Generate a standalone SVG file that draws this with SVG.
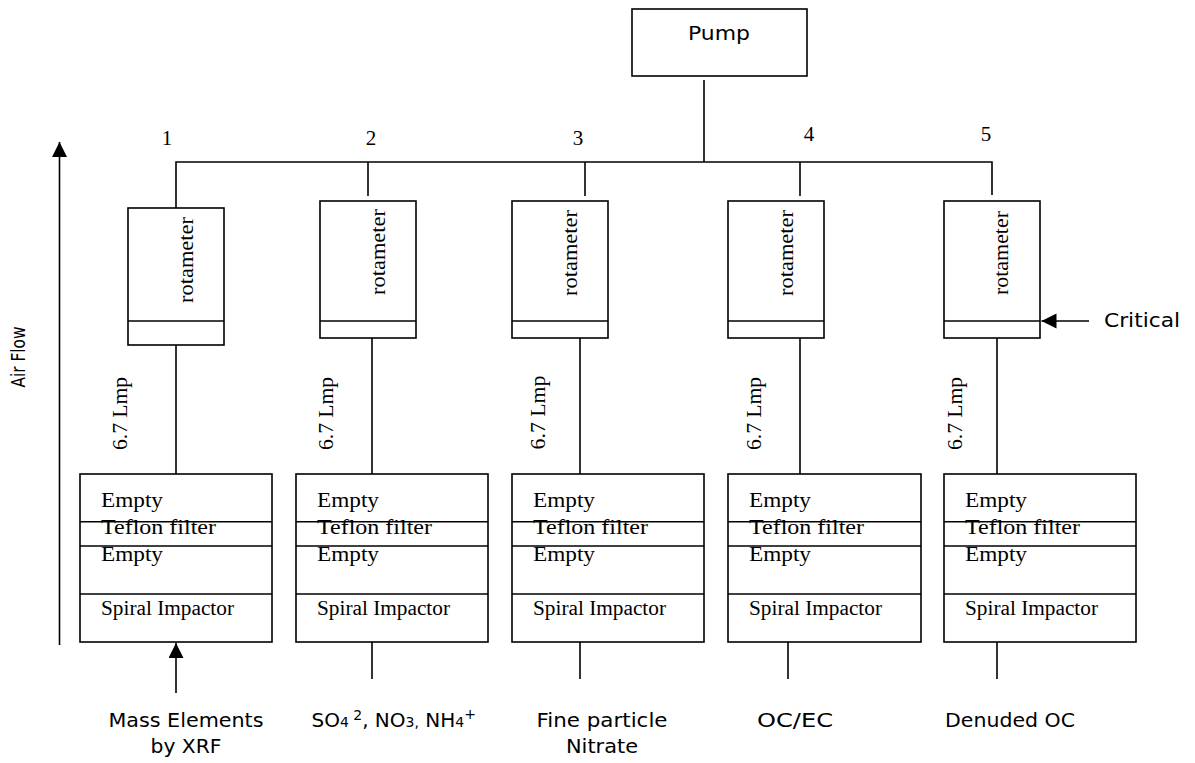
<svg xmlns="http://www.w3.org/2000/svg" width="1195" height="763" viewBox="0 0 1195 763">
  <style>
    .box { fill: #fff; stroke: #000; stroke-width: 1.6; }
    .ln { fill: none; stroke: #000; stroke-width: 1.6; }
    .serif { font-family: "Liberation Serif", "Times New Roman", serif; fill: #000; }
    .sans { font-family: "DejaVu Sans", "Liberation Sans", sans-serif; fill: #000; font-size: 20px; }
    .num { font-size: 21px; text-anchor: middle; }
    .rot { font-size: 22px; text-anchor: middle; }
    .row { font-size: 22px; }
    .small { font-size: 20px; }
  </style>
  <defs>
    <marker id="head" markerUnits="userSpaceOnUse" markerWidth="16" markerHeight="16" refX="15" refY="7.5" orient="auto">
      <path d="M0,0 L15,7.5 L0,15 Z" fill="#000"/>
    </marker>
  </defs>

  <!-- pump -->
  <g id="pump">
    <rect class="box" x="632" y="9" width="175" height="67"/>
    <text class="sans" x="719" y="40" text-anchor="middle" textLength="62" lengthAdjust="spacingAndGlyphs">Pump</text>
  </g>

  <!-- air flow direction -->
  <g id="airflow">
    <line class="ln" x1="59.5" y1="645" x2="59.5" y2="142" marker-end="url(#head)"/>
    <text class="sans" transform="translate(25,357) rotate(-90)" text-anchor="middle" font-size="18" textLength="61" lengthAdjust="spacingAndGlyphs">Air Flow</text>
  </g>

  <!-- piping -->
  <g id="connectors">
    <line class="ln" x1="704" y1="80" x2="704" y2="162"/>
    <polyline class="ln" points="176,208 176,162 992,162 992,195"/>
    <line class="ln" x1="368" y1="162" x2="368" y2="196"/>
    <line class="ln" x1="585" y1="162" x2="585" y2="196"/>
    <line class="ln" x1="800" y1="162" x2="800" y2="196"/>
    <!-- rotameter to sampler -->
    <line class="ln" x1="176" y1="345" x2="176" y2="474"/>
    <line class="ln" x1="372" y1="338" x2="372" y2="474"/>
    <line class="ln" x1="580" y1="338" x2="580" y2="474"/>
    <line class="ln" x1="800" y1="338" x2="800" y2="474"/>
    <line class="ln" x1="997" y1="338" x2="997" y2="474"/>
    <!-- sampler inlets -->
    <line class="ln" x1="176" y1="693" x2="176" y2="643" marker-end="url(#head)"/>
    <line class="ln" x1="372" y1="642" x2="372" y2="679"/>
    <line class="ln" x1="580" y1="642" x2="580" y2="679"/>
    <line class="ln" x1="788" y1="642" x2="788" y2="679"/>
    <line class="ln" x1="997" y1="642" x2="997" y2="679"/>
    <!-- critical orifice pointer -->
    <line class="ln" x1="1089" y1="321" x2="1041.5" y2="321" marker-end="url(#head)"/>
  </g>

  <!-- channel numbers -->
  <g id="numbers" class="serif num">
    <text x="167" y="145">1</text>
    <text x="371" y="145">2</text>
    <text x="578" y="145">3</text>
    <text x="809" y="141">4</text>
    <text x="986" y="141">5</text>
  </g>

  <!-- rotameters -->
  <g id="rotameter-1">
    <rect class="box" x="128" y="208" width="96" height="137"/>
    <line class="ln" x1="128" y1="321" x2="224" y2="321"/>
    <text class="serif rot" transform="translate(193,260) rotate(-90)" textLength="86" lengthAdjust="spacingAndGlyphs">rotameter</text>
  </g>
  <g id="rotameter-2">
    <rect class="box" x="320" y="201" width="96" height="137"/>
    <line class="ln" x1="320" y1="321" x2="416" y2="321"/>
    <text class="serif rot" transform="translate(385,252) rotate(-90)" textLength="86" lengthAdjust="spacingAndGlyphs">rotameter</text>
  </g>
  <g id="rotameter-3">
    <rect class="box" x="512" y="201" width="96" height="137"/>
    <line class="ln" x1="512" y1="321" x2="608" y2="321"/>
    <text class="serif rot" transform="translate(577,253) rotate(-90)" textLength="86" lengthAdjust="spacingAndGlyphs">rotameter</text>
  </g>
  <g id="rotameter-4">
    <rect class="box" x="728" y="201" width="96" height="137"/>
    <line class="ln" x1="728" y1="321" x2="824" y2="321"/>
    <text class="serif rot" transform="translate(793,253) rotate(-90)" textLength="86" lengthAdjust="spacingAndGlyphs">rotameter</text>
  </g>
  <g id="rotameter-5">
    <rect class="box" x="944" y="201" width="96" height="137"/>
    <line class="ln" x1="944" y1="321" x2="1040" y2="321"/>
    <text class="serif rot" transform="translate(1008,253) rotate(-90)" textLength="84" lengthAdjust="spacingAndGlyphs">rotameter</text>
  </g>
  <text id="critical" class="sans" x="1104" y="327" textLength="76" lengthAdjust="spacingAndGlyphs">Critical</text>

  <!-- flow rates -->
  <g id="flow-rates" class="serif rot">
    <text transform="translate(127,413.5) rotate(-90)" textLength="73" lengthAdjust="spacingAndGlyphs">6.7 Lmp</text>
    <text transform="translate(333,413.5) rotate(-90)" textLength="73" lengthAdjust="spacingAndGlyphs">6.7 Lmp</text>
    <text transform="translate(545,412.5) rotate(-90)" textLength="74" lengthAdjust="spacingAndGlyphs">6.7 Lmp</text>
    <text transform="translate(761,413.5) rotate(-90)" textLength="73" lengthAdjust="spacingAndGlyphs">6.7 Lmp</text>
    <text transform="translate(962,413.5) rotate(-90)" textLength="73" lengthAdjust="spacingAndGlyphs">6.7 Lmp</text>
  </g>

  <!-- sampler stacks -->
  <g id="sampler-1">
    <rect class="box" x="80" y="474" width="192" height="168"/>
    <line class="ln" x1="80" y1="521.7" x2="272" y2="521.7"/>
    <line class="ln" x1="80" y1="546" x2="272" y2="546"/>
    <line class="ln" x1="80" y1="594" x2="272" y2="594"/>
    <text class="serif row" x="101" y="507" textLength="62" lengthAdjust="spacingAndGlyphs">Empty</text>
    <text class="serif row" x="101" y="534" textLength="115" lengthAdjust="spacingAndGlyphs">Teflon filter</text>
    <text class="serif row" x="101" y="561" textLength="62" lengthAdjust="spacingAndGlyphs">Empty</text>
    <text class="serif small" x="101" y="615" textLength="133" lengthAdjust="spacingAndGlyphs">Spiral Impactor</text>
  </g>
  <g id="sampler-2">
    <rect class="box" x="296" y="474" width="192" height="168"/>
    <line class="ln" x1="296" y1="521.7" x2="488" y2="521.7"/>
    <line class="ln" x1="296" y1="546" x2="488" y2="546"/>
    <line class="ln" x1="296" y1="594" x2="488" y2="594"/>
    <text class="serif row" x="317" y="507" textLength="62" lengthAdjust="spacingAndGlyphs">Empty</text>
    <text class="serif row" x="317" y="534" textLength="115" lengthAdjust="spacingAndGlyphs">Teflon filter</text>
    <text class="serif row" x="317" y="561" textLength="62" lengthAdjust="spacingAndGlyphs">Empty</text>
    <text class="serif small" x="317" y="615" textLength="133" lengthAdjust="spacingAndGlyphs">Spiral Impactor</text>
  </g>
  <g id="sampler-3">
    <rect class="box" x="512" y="474" width="192" height="168"/>
    <line class="ln" x1="512" y1="521.7" x2="704" y2="521.7"/>
    <line class="ln" x1="512" y1="546" x2="704" y2="546"/>
    <line class="ln" x1="512" y1="594" x2="704" y2="594"/>
    <text class="serif row" x="533" y="507" textLength="62" lengthAdjust="spacingAndGlyphs">Empty</text>
    <text class="serif row" x="533" y="534" textLength="115" lengthAdjust="spacingAndGlyphs">Teflon filter</text>
    <text class="serif row" x="533" y="561" textLength="62" lengthAdjust="spacingAndGlyphs">Empty</text>
    <text class="serif small" x="533" y="615" textLength="133" lengthAdjust="spacingAndGlyphs">Spiral Impactor</text>
  </g>
  <g id="sampler-4">
    <rect class="box" x="728" y="474" width="193" height="168"/>
    <line class="ln" x1="728" y1="521.7" x2="921" y2="521.7"/>
    <line class="ln" x1="728" y1="546" x2="921" y2="546"/>
    <line class="ln" x1="728" y1="594" x2="921" y2="594"/>
    <text class="serif row" x="749" y="507" textLength="62" lengthAdjust="spacingAndGlyphs">Empty</text>
    <text class="serif row" x="749" y="534" textLength="115" lengthAdjust="spacingAndGlyphs">Teflon filter</text>
    <text class="serif row" x="749" y="561" textLength="62" lengthAdjust="spacingAndGlyphs">Empty</text>
    <text class="serif small" x="749" y="615" textLength="133" lengthAdjust="spacingAndGlyphs">Spiral Impactor</text>
  </g>
  <g id="sampler-5">
    <rect class="box" x="944" y="474" width="192" height="168"/>
    <line class="ln" x1="944" y1="521.7" x2="1136" y2="521.7"/>
    <line class="ln" x1="944" y1="546" x2="1136" y2="546"/>
    <line class="ln" x1="944" y1="594" x2="1136" y2="594"/>
    <text class="serif row" x="965" y="507" textLength="62" lengthAdjust="spacingAndGlyphs">Empty</text>
    <text class="serif row" x="965" y="534" textLength="115" lengthAdjust="spacingAndGlyphs">Teflon filter</text>
    <text class="serif row" x="965" y="561" textLength="62" lengthAdjust="spacingAndGlyphs">Empty</text>
    <text class="serif small" x="965" y="615" textLength="133" lengthAdjust="spacingAndGlyphs">Spiral Impactor</text>
  </g>

  <!-- analyses -->
  <g id="analyses" class="sans" text-anchor="middle">
    <text x="186" y="727" textLength="155" lengthAdjust="spacingAndGlyphs">Mass Elements</text>
    <text x="186" y="753" textLength="71" lengthAdjust="spacingAndGlyphs">by XRF</text>
    <text x="393.7" y="727">SO<tspan font-size="14">4</tspan><tspan font-size="14" dy="-7"> 2</tspan><tspan dy="7">, NO</tspan><tspan font-size="14">3,</tspan> NH<tspan font-size="14">4</tspan><tspan font-size="14" dy="-8">+</tspan></text>
    <text x="602" y="727" textLength="131" lengthAdjust="spacingAndGlyphs">Fine particle</text>
    <text x="602" y="753" textLength="72" lengthAdjust="spacingAndGlyphs">Nitrate</text>
    <text x="795" y="727" textLength="76" lengthAdjust="spacingAndGlyphs">OC/EC</text>
    <text x="1010" y="727" textLength="130" lengthAdjust="spacingAndGlyphs">Denuded OC</text>
  </g>
</svg>
